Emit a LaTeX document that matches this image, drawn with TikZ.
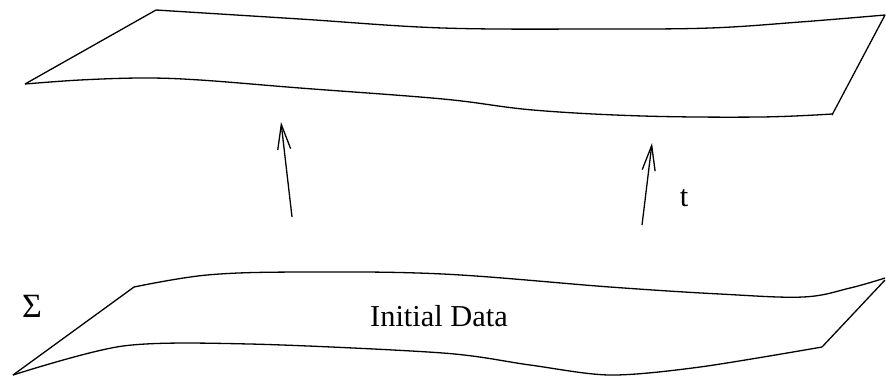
\documentclass[tikz,border=0pt]{standalone}
\usepackage{fontspec}
\setmainfont{Liberation Serif}
\usetikzlibrary{arrows.meta,positioning}

\tikzset{
  sheet/.style={line width=0.65pt, line join=miter},
  flow/.style={line width=0.65pt, -{Straight Barb[length=12.5pt,width=6.5pt,line width=0.65pt]}},
  lbl/.style={font=\fontsize{15.2}{18}\selectfont, inner sep=0pt, anchor=base}
}

\begin{document}
\begin{tikzpicture}[x=0.5pt, y=-0.5pt]
  \useasboundingbox (0,0) rectangle (886,377);
  % Upper sheet
  \draw[sheet] (25,84) -- (156,10);
  \draw[sheet] plot[smooth, tension=0.6] coordinates {(156,10) (300,19) (443,28) (600,29) (710,28) (800,22) (885,15)};
  \draw[sheet] (885,15) -- (832,115);
  \draw[sheet] plot[smooth, tension=0.6] coordinates {(25,84) (80,80) (143,78) (200,80) (300,88) (443,99) (533,110) (643,116) (760,117) (832,114)};
  % Lower sheet
  \draw[sheet] (13,375) -- (134,287);
  \draw[sheet] plot[smooth, tension=0.6] coordinates {(134,287) (207,275) (300,272) (443,274) (610,287) (720,294) (803,297) (850,288) (885,278)};
  \draw[sheet] (885,280) -- (822,347);
  \draw[sheet] plot[smooth, tension=0.5] coordinates {(13,375) (123,346) (250,344) (443,353) (530,365) (610,375) (700,367) (822,347)};
  % Evolution arrows
  \coordinate (lefttail) at (292,217);
  \coordinate (lefttip) at (281,122);
  \coordinate (righttail) at (642,225);
  \coordinate (righttip) at (652,143);
  \draw[flow] (lefttail) -- (lefttip);
  \draw[flow] (righttail) -- (righttip);
  % Labels
  \node[lbl] (tlabel) at (684,206) {t};
  \node[lbl, font=\fontsize{17}{20}\selectfont] (sigma) at (32,317) {Σ};
  \node[lbl] (initdata) at (439,326) {Initial Data};
\end{tikzpicture}
\end{document}
